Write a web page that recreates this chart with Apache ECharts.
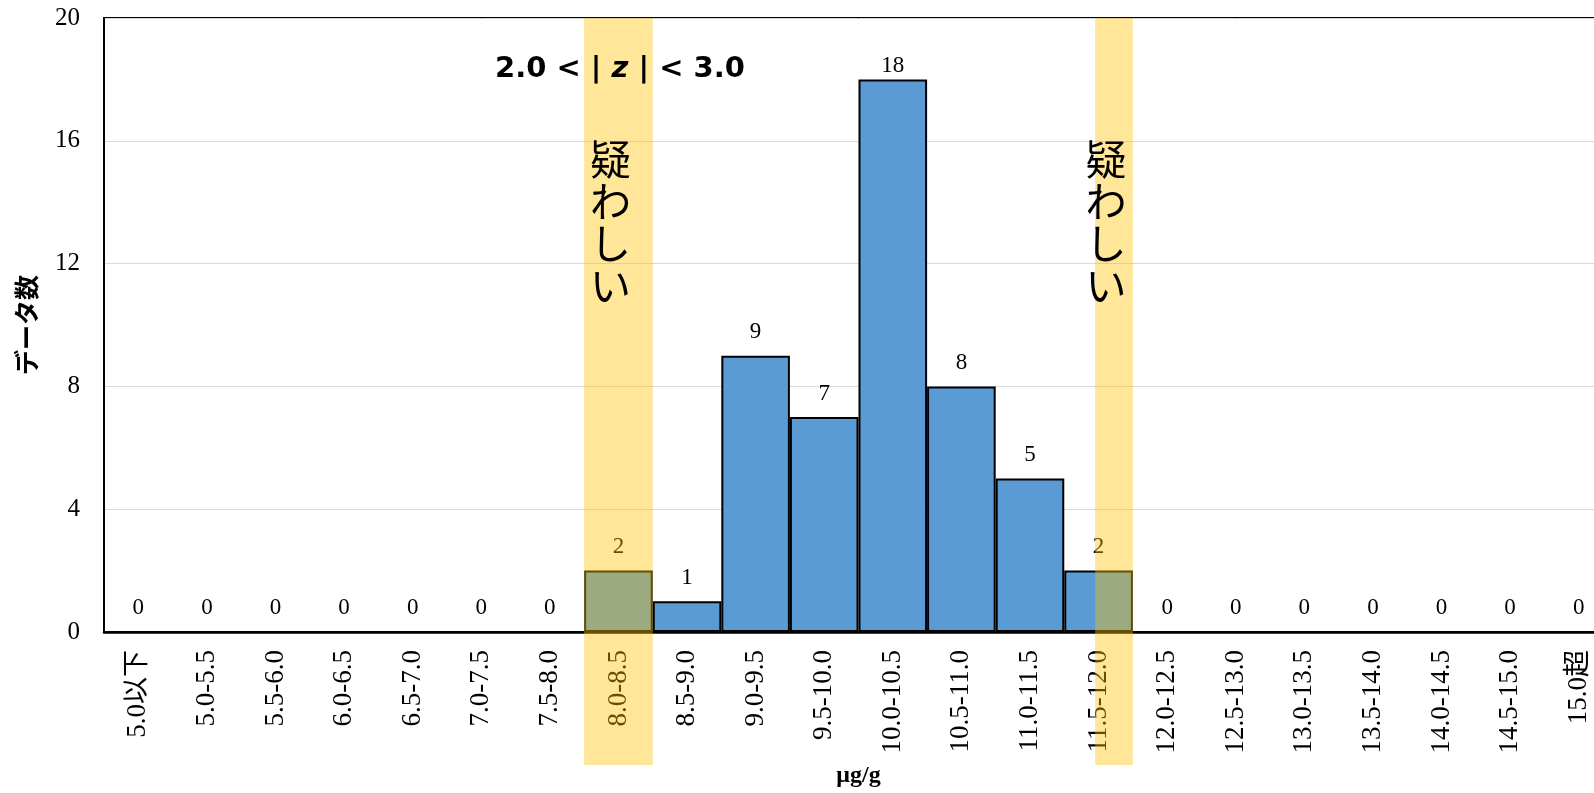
<!DOCTYPE html>
<html>
<head>
<meta charset="utf-8">
<title>データ数ヒストグラム</title>
<script src="https://cdn.jsdelivr.net/npm/echarts@6/dist/echarts.min.js"></script>
<style>
  html, body { margin: 0; padding: 0; background: #fff; overflow: hidden; }
  /* プロットが右端で切れているので、描画領域を画面より広くとる */
  #chart { width: 1640px; height: 793px; }
</style>
</head>
<body>
<div id="chart"></div>
<script>
// 階級（μg/g）
const categories = [
  '5.0以下', '5.0-5.5', '5.5-6.0', '6.0-6.5', '6.5-7.0', '7.0-7.5', '7.5-8.0',
  '8.0-8.5', '8.5-9.0', '9.0-9.5', '9.5-10.0', '10.0-10.5', '10.5-11.0',
  '11.0-11.5', '11.5-12.0', '12.0-12.5', '12.5-13.0', '13.0-13.5', '13.5-14.0',
  '14.0-14.5', '14.5-15.0', '15.0超'
];
// データ数
const counts = [0, 0, 0, 0, 0, 0, 0, 2, 1, 9, 7, 18, 8, 5, 2, 0, 0, 0, 0, 0, 0, 0];

// y軸 0〜20、4刻み
const yMin = 0;
const yMax = 20;
const yStep = 4;

// 疑わしい範囲（階級の位置、左端=0）
const bandFrom = [7, 14.45];
const bandTo = [8, 15];
const bandLabel = '疑わしい';

const serif = "'Liberation Serif', 'Times New Roman', 'Noto Sans CJK JP', serif";

const chart = echarts.init(document.getElementById('chart'));

chart.setOption({
  animation: false,
  title: {
    text: '{b|2.0 < | }{i|z}{b| | < 3.0}',
    left: 490,
    top: 50,
    z: 20,
    textStyle: {
      rich: {
        b: { fontFamily: 'DejaVu Sans', fontWeight: 'bold', fontSize: 29, color: '#000' },
        i: { fontFamily: 'DejaVu Sans', fontWeight: 'bold', fontStyle: 'italic', fontSize: 29, color: '#000' }
      }
    }
  },
  grid: {
    left: 104,
    top: 18,
    width: 1509,
    height: 615,
    show: true,
    borderColor: '#000',
    borderWidth: 2,
    backgroundColor: 'transparent'
  },
  xAxis: [
    {
      type: 'category',
      data: categories,
      name: 'μg/g',
      nameLocation: 'middle',
      nameGap: 132,
      nameTextStyle: { fontFamily: serif, fontWeight: 'bold', fontSize: 24, color: '#000' },
      axisLine: { lineStyle: { color: '#000', width: 2.5 } },
      axisTick: { show: false },
      axisLabel: {
        interval: 0,
        rotate: 90,
        margin: 18,
        fontFamily: serif,
        fontSize: 27,
        color: '#000'
      }
    },
    {
      type: 'value',
      min: 0,
      max: categories.length,
      show: false
    }
  ],
  yAxis: {
    type: 'value',
    min: yMin,
    max: yMax,
    interval: yStep,
    name: 'データ数',
    nameLocation: 'middle',
    nameGap: 62,
    nameTextStyle: { fontFamily: serif, fontWeight: 'bold', fontSize: 25, color: '#000' },
    axisLine: { show: true, lineStyle: { color: '#000', width: 2 } },
    axisTick: { show: false },
    axisLabel: { margin: 24, fontFamily: serif, fontSize: 25, color: '#000' },
    splitLine: { lineStyle: { color: '#d9d9d9', width: 1 } }
  },
  series: [
    {
      type: 'bar',
      data: counts.map((v, i) => i === 11 ? { value: v, label: { distance: 2 } } : v),
      barCategoryGap: '0%',
      itemStyle: { color: '#5B9BD5', borderColor: '#000', borderWidth: 2 },
      label: {
        show: true,
        position: 'top',
        distance: 12,
        fontFamily: serif,
        fontSize: 23,
        color: '#000'
      }
    },
    {
      type: 'custom',
      xAxisIndex: 1,
      yAxisIndex: 0,
      clip: false,
      z: 5,
      silent: true,
      data: bandFrom.map((f, i) => [f, bandTo[i]]),
      encode: { x: [0, 1] },
      renderItem: function (params, api) {
        const p0 = api.coord([api.value(0), yMax]);
        const p1 = api.coord([api.value(1), yMin]);
        const top = p0[1];
        const bottom = p1[1] + 133;
        const left = p0[0];
        const right = p1[0];
        return {
          type: 'group',
          children: [
            {
              type: 'rect',
              shape: { x: left, y: top, width: right - left, height: bottom - top },
              style: { fill: 'rgba(255,192,0,0.4)' }
            },
            {
              type: 'text',
              x: (left + right) / 2 - 8,
              y: top + 120,
              style: {
                text: bandLabel.split('').join('\n'),
                fontFamily: 'Noto Sans CJK JP',
                fontSize: 41,
                lineHeight: 42,
                fill: '#000',
                align: 'center',
                verticalAlign: 'top'
              }
            }
          ]
        };
      }
    }
  ]
});
</script>
</body>
</html>
